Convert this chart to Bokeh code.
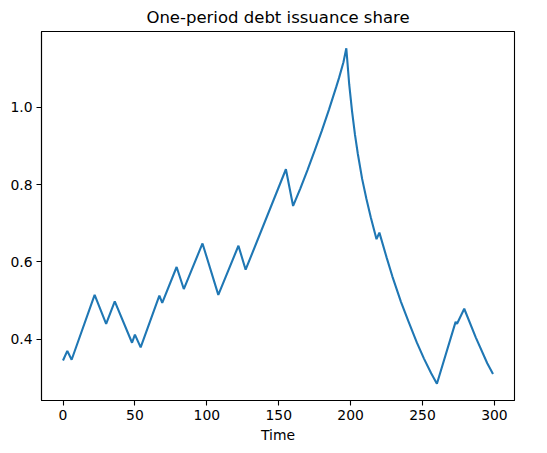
from bokeh.plotting import figure
from bokeh.models import Range1d, FixedTicker, PrintfTickFormatter
from bokeh.embed import file_html
from bokeh.resources import INLINE

# Vertices of the series (time, share)
time = [0, 3, 6, 22, 30, 36, 48, 50, 54, 67, 69, 79, 84, 97, 108, 122, 127,
        155, 160, 165, 170, 175, 180, 185, 190, 192, 195, 197,
        199, 201, 203, 205, 208, 211, 214, 218, 220,
        225, 229, 235, 240, 246, 251, 256, 260, 273, 274, 279, 287, 295, 299]
share = [0.345, 0.370, 0.347, 0.515, 0.440, 0.498, 0.391, 0.412, 0.379,
         0.513, 0.494, 0.587, 0.530, 0.648, 0.515, 0.642, 0.580,
         0.840, 0.745, 0.790, 0.838, 0.888, 0.940, 0.995, 1.053, 1.077, 1.117, 1.153,
         1.060, 0.990, 0.930, 0.880, 0.815, 0.763, 0.716, 0.659, 0.676,
         0.612, 0.563, 0.497, 0.448, 0.392, 0.350, 0.312, 0.285,
         0.445, 0.440, 0.479, 0.405, 0.338, 0.310]
x_ticks = [0, 50, 100, 150, 200, 250, 300]
y_ticks = [0.4, 0.6, 0.8, 1.0]

xmin, xmax = 0, 299
ymin, ymax = min(share), max(share)
xpad = 0.05 * (xmax - xmin)
ypad = 0.05 * (ymax - ymin)

FONT = "DejaVu Sans"

p = figure(width=539, height=445, output_backend="svg", toolbar_location=None,
           x_range=Range1d(xmin - xpad, xmax + xpad),
           y_range=Range1d(ymin - ypad, ymax + ypad),
           min_border_left=41, min_border_right=25, min_border_top=31,
           min_border_bottom=45)

p.title.text = "One-period debt issuance share"
p.title.align = "center"
p.title.text_font = FONT
p.title.text_font_size = "16.5px"
p.title.text_font_style = "normal"
p.title.text_color = "black"

p.line(time, share, line_color="#1f77b4", line_width=2.1)

p.xgrid.visible = False
p.ygrid.visible = False
p.outline_line_color = "black"
p.outline_line_width = 1.1
p.outline_line_alpha = 1.0

p.xaxis.ticker = FixedTicker(ticks=x_ticks)
p.yaxis.ticker = FixedTicker(ticks=y_ticks)
p.yaxis.formatter = PrintfTickFormatter(format="%.1f")
p.xaxis.axis_label = "Time"

for ax in (p.xaxis[0], p.yaxis[0]):
    ax.axis_line_color = "black"
    ax.axis_line_width = 1.1
    ax.major_tick_line_color = "black"
    ax.major_tick_line_width = 1.1
    ax.major_tick_in = 0
    ax.major_tick_out = 5
    ax.minor_tick_line_color = None
    ax.major_label_text_font = FONT
    ax.major_label_text_font_size = "13.9px"
    ax.major_label_text_color = "black"
    ax.major_label_standoff = 4
    ax.axis_label_text_font = FONT
    ax.axis_label_text_font_size = "13.9px"
    ax.axis_label_text_font_style = "normal"
    ax.axis_label_text_color = "black"
    ax.axis_label_standoff = 4

open("out.html", "w").write(file_html(p, INLINE))
